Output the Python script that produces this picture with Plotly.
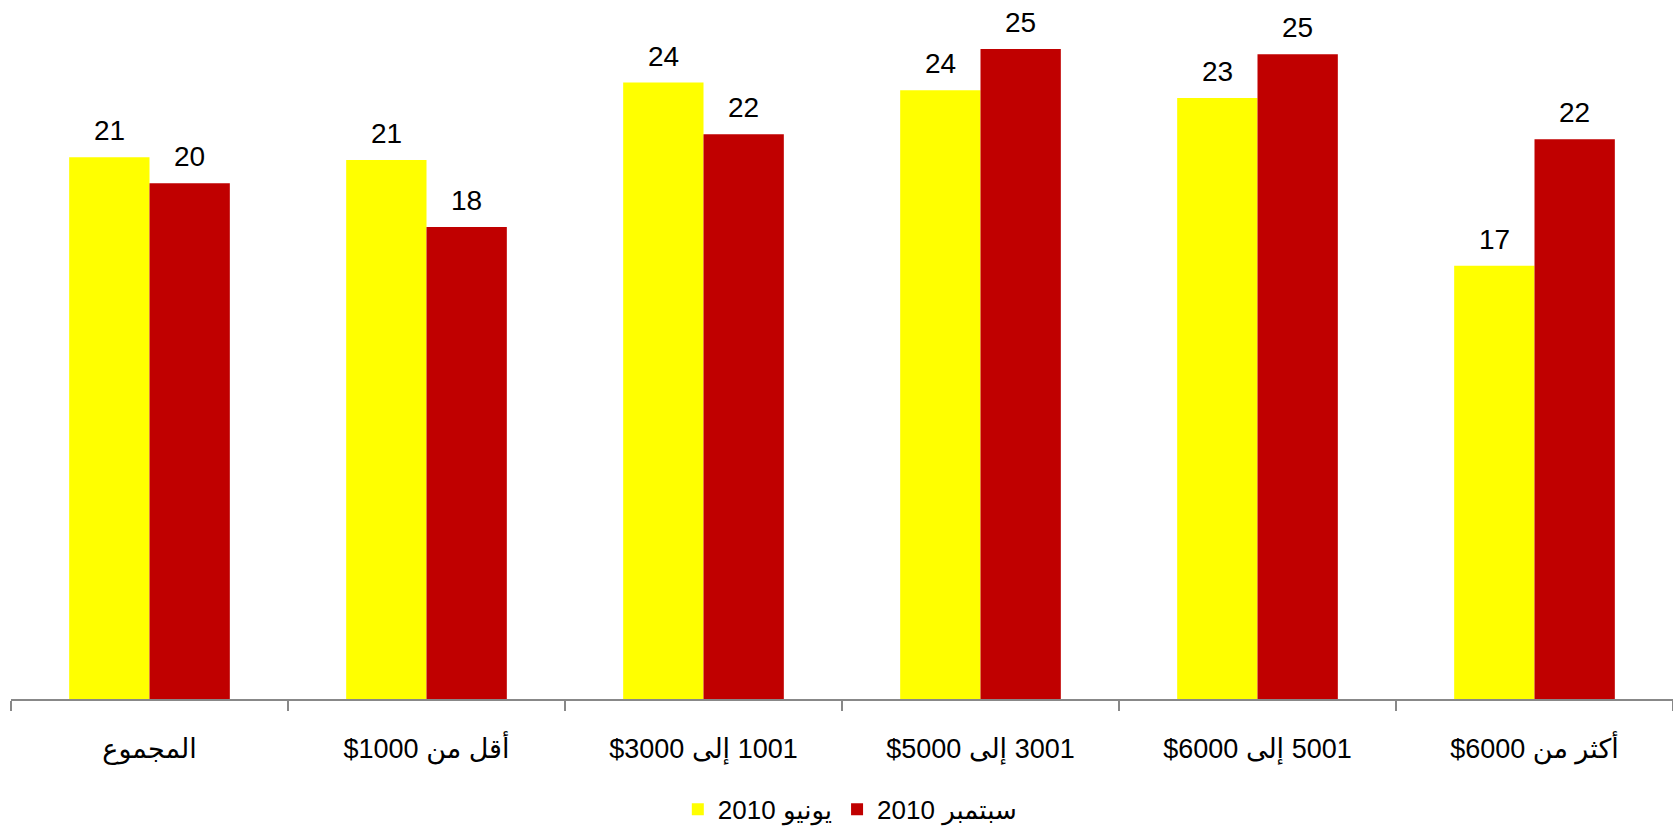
import plotly.graph_objects as go

RLE, PDF = "\u202B", "\u202C"

categories = ["المجموع", "أقل من 1000$", "1001 إلى 3000$", "3001 إلى 5000$", "5001 إلى 6000$", "أكثر من 6000$"]
series_names = ["يونيو 2010", "سبتمبر 2010"]
june_2010 = [21.0, 20.9, 23.9, 23.6, 23.3, 16.8]
sept_2010 = [20.0, 18.3, 21.9, 25.2, 25.0, 21.7]
colors = ["#FFFF00", "#C00000"]

cat_labels = [RLE + c + PDF for c in categories]
FONT = "Arial, Liberation Sans, DejaVu Sans, sans-serif"

fig = go.Figure()
for name, vals, col in zip(series_names, [june_2010, sept_2010], colors):
    fig.add_trace(go.Bar(x=cat_labels, y=vals, name=RLE + name + PDF,
                         marker=dict(color=col, line=dict(width=0))))

annotations = []
for i, vals in enumerate([june_2010, sept_2010]):
    shift = -40 if i == 0 else 40
    for c, v in zip(cat_labels, vals):
        annotations.append(dict(x=c, y=v, xref="x", yref="y", text=str(int(round(v))),
                                showarrow=False, xshift=shift, yanchor="bottom", yshift=9,
                                font=dict(family=FONT, size=28, color="#000000")))

fig.update_layout(
    width=1673, height=829,
    margin=dict(l=11, r=0, t=0, b=130, autoexpand=False),
    paper_bgcolor="white", plot_bgcolor="white",
    barmode="group", bargap=0.42, bargroupgap=0,
    showlegend=True,
    legend=dict(orientation="h", x=0.505, xanchor="center", y=-0.158, yanchor="middle",
                font=dict(family=FONT, size=26, color="#000000"), itemwidth=30,
                traceorder="normal"),
    annotations=annotations,
    font=dict(family=FONT, color="#000000"),
)
fig.update_xaxes(showline=True, linecolor="#888888", linewidth=2, ticks="outside",
                 tickson="boundaries", ticklen=10, tickcolor="#888888", tickwidth=2,
                 ticklabelstandoff=25, showgrid=False, automargin=False,
                 tickfont=dict(family=FONT, size=27, color="#000000"))
fig.update_yaxes(visible=False, range=[0, 27.1], showgrid=False, zeroline=False, automargin=False)

fig.write_html("out.html", config={"displayModeBar": False},
               post_script="document.body.style.margin='0';document.body.style.overflow='hidden';")
